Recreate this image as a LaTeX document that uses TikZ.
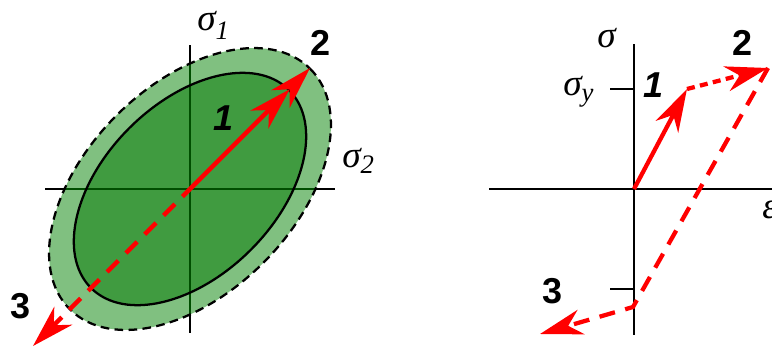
\documentclass[tikz,border=0pt]{standalone}
\usepackage{fontspec}
\setmainfont{Liberation Serif}
\newfontfamily\numfont{Liberation Sans}
\usetikzlibrary{arrows.meta}
\definecolor{innergreen}{RGB}{64,155,64}
\definecolor{outergreen}{RGB}{128,192,128}
\definecolor{axisgreen}{RGB}{0,78,0}
\newcommand{\subs}[2][-5pt]{\raisebox{#1}{\fontsize{20}{20}\selectfont #2}}
\begin{document}
\begin{tikzpicture}[x=0.75pt,y=-0.75pt,
  axis/.style={line width=2.1pt, black},
  redarrow/.style={line width=3.2pt, red, -{Stealth[length=32pt,width=19pt,inset=10pt]}},
  dashedred/.style={redarrow, dash pattern=on 12pt off 8pt},
  dottedred/.style={redarrow, dash pattern=on 6pt off 4pt},
  num/.style={font=\numfont\bfseries\fontsize{27}{27}\selectfont, inner sep=0pt, anchor=base west},
  numit/.style={num, font=\numfont\bfseries\itshape\fontsize{27}{27}\selectfont},
  sym/.style={font=\fontsize{28}{28}\selectfont\itshape, inner sep=0pt, anchor=base west},
]
\useasboundingbox (0,0) rectangle (772,347);
% ---------- left panel ----------
\coordinate (O) at (190,189);
\coordinate (P1) at (289.7,89.3);
\coordinate (P2) at (310,68);
\coordinate (T3) at (33,346);
\fill[outergreen, rotate around={45:(O)}] (O) ellipse [x radius=170, y radius=104];
\fill[innergreen, rotate around={45:(O)}] (O) ellipse [x radius=140, y radius=86];
\draw[axis] (45,189) -- (335,189);
\draw[axis] (190,45) -- (190,333);
\begin{scope}
  \clip[rotate around={45:(O)}] (O) ellipse [x radius=170, y radius=104];
  \draw[axis, axisgreen] (45,189) -- (335,189);
  \draw[axis, axisgreen] (190,45) -- (190,333);
\end{scope}
\draw[line width=1.7pt, rotate around={45:(O)}] (O) ellipse [x radius=140, y radius=86];
\draw[line width=1.7pt, dash pattern=on 6.5pt off 4pt, rotate around={45:(O)}] (O) ellipse [x radius=170, y radius=104];
\draw[redarrow] (O) -- (P1);
\draw[redarrow] (P1) -- (P2);
\draw[dashedred, dash phase=4pt] (O) -- (T3);
\node[sym] (s1) at (197,30) {σ\subs[-7pt]{1}};
\node[sym] (s2) at (342,167) {σ\subs{2}};
\node[num] (n2l) at (310,55) {2};
\node[numit] (n1l) at (213,130) {1};
\node[num] (n3l) at (10,318) {3};
% ---------- right panel ----------
\coordinate (O2) at (634,189);
\coordinate (A) at (687,89);
\coordinate (B) at (768,68);
\coordinate (C) at (633,307);
\coordinate (D) at (540,334);
\draw[axis] (489,189) -- (772,189);
\draw[axis] (634,44) -- (634,335);
\draw[axis] (610,89) -- (634,89);
\draw[axis] (610,289) -- (634,289);
\draw[redarrow] (O2) -- (A);
\draw[dottedred] (A) -- (B);
\draw[dashedred] (B) -- (C) -- (D);
\node[sym] (sr) at (597,47) {σ};
\node[sym] (sy) at (563,95) {σ\subs{y}};
\node[sym] (eps) at (762,218) {ε};
\node[numit] (n1r) at (643,97) {1};
\node[num] (n2r) at (732,55) {2};
\node[num] (n3r) at (542,303) {3};
\end{tikzpicture}
\end{document}
